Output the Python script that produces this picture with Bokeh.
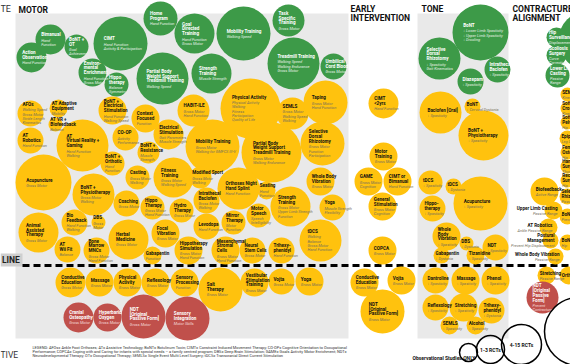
from bokeh.plotting import figure
from bokeh.models import Range1d
from bokeh.core.properties import value
from bokeh.embed import file_html
from bokeh.resources import INLINE

FONT = "Roboto"
GREEN = "#3d9a48"
YELLOW = "#ffc20e"
RED = "#c0504b"

# ---- data: (intervention, outcome, x, y, radius) ----
MOTOR_GREEN = [
    ("Action\nObservation", "Hand Function", 31, 57, 15),
    ("Bimanual", "Hand\nFunction", 50, 39, 15),
    ("BoNT +\nOT", "Goal\nAchievement", 76, 46, 12),
    ("CIMT", "Hand Function\nActivity & Participation", 120, 43, 27),
    ("Environ-\nmental\nEnrichment", "Hand Function\nGross Motor", 92, 72, 14),
    ("Hippo\ntherapy", "Balance\nSymmetry", 116, 84, 12),
    ("Home\nProgram", "Hand Function", 160, 18, 17),
    ("Goal\nDirected\nTraining", "Hand Function\nGross Motor", 194, 33, 20),
    ("Mobility Training", "Walking Speed", 243, 33, 27),
    ("Task\nSpecific\nTraining", "Gross Motor", 288, 20, 16),
    ("Partial Body\nWeight Support\nTreadmill Training", "Walking Speed", 162, 78, 26),
    ("Strength\nTraining", "Muscle Strength", 211, 73, 20),
    ("Treadmill Training", "Walking Speed\nWalking Endurance\nGross Motor", 293, 63, 26),
    ("Umbilical\nCord Blood", "Gross Motor", 333, 66, 13),
]
MOTOR_YELLOW = [
    ("AFOs", "Walking Speed\nGross Motor\nStride Length\nKinematics", 30, 113, 13),
    ("AT Adaptive\nEquipment", "Mobility", 58, 108, 9),
    ("AT VR +\nBiofeedback", "Balance", 55, 124, 7),
    ("BoNT +\nElectrical\nStimulation", "Hand Function\nWalking Speed", 112, 110, 14),
    ("Context\nFocused", "Function", 145, 118, 14),
    ("HABIT-ILE", "Gross Motor\nHand Function", 193, 110, 16),
    ("Physical Activity", "Physical Activity\nWalking\nFitness\nParticipation\nQuality of Life", 250, 108, 30),
    ("SEMLS", "Gross Motor\nWalking Speed\nWalking", 292, 113, 16),
    ("Taping", "Gross Motor\nHand Function", 325, 102, 22),
    ("AT\nRobotics", "Hand Function", 30, 140, 13),
    ("AT\nVirtual Reality +\nGaming", "Hand Function\nWalking", 82, 145, 26),
    ("CO-OP", "Activity\nPerformance", 125, 137, 13),
    ("BoNT +\nResistance", "Muscle\nStrength", 148, 152, 11),
    ("Electrical\nStimulation", "Gait Parameters\nMuscle Strength", 168, 134, 15),
    ("Mobility Training", "Gross Motor\nWalking for GMFCS III-V", 212, 146, 27),
    ("Partial Body\nWeight Support\nTreadmill Training", "Gross Motor\nWalking Endurance", 271, 152, 30),
    ("Selective\nDorsal\nRhizotomy", "Gross Motor\nFunction\nParticipation", 322, 143, 22),
    ("BoNT +\nOrthotic", "Hand\nFunction", 112, 163, 12),
    ("Acupuncture", "Gross Motor", 43, 182, 28),
    ("Casting", "Gross Motor\nWalking", 137, 177, 12),
    ("BoNT +\nPhysiotherapy", "Gross Motor\nWalking", 93, 194, 21),
    ("Fitness\nTraining", "Gross Motor\nWalking Speed", 173, 177, 20),
    ("Modified Sport", "Gross Motor\nWalking", 200, 177, 11),
    ("Orthoses Night\nHand Splint", "Hand Function", 238, 188, 21),
    ("Seating", "Hand\nFunction", 266, 190, 9),
    ("Whole Body\nVibration", "Gross Motor", 320, 181, 14),
    ("Coaching", "Gross Motor", 126, 203, 13),
    ("Hippo\nTherapy", "Gross Motor\nHand Function", 152, 207, 12),
    ("Intrathecal\nBaclofen", "Gross Motor\nWalking", 206, 200, 13),
    ("Strength\nTraining", "Gross Motor\nUpper Limb Strength\nFunction", 290, 206, 20),
    ("Yoga", "Muscle Strength\nFlexibility", 332, 207, 13),
    ("Hydro\nTherapy", "Gross Motor", 181, 210, 12),
    ("Motor\nSpeech", "Speech\nIntelligibility", 258, 215, 12),
    ("Mirror\nTherapy", "Motor\nFunction", 233, 222, 12),
    ("Levodopa", "Hand Function", 206, 226, 13),
    ("Animal\nAssisted\nTherapy", "Gross Motor", 38, 232, 20),
    ("Bio\nFeedback", "Hand Function\nWalking", 74, 222, 13),
    ("DBS", "Gross\nMotor", 98, 222, 7),
    ("Focal\nVibration", "Gross Motor", 165, 233, 14),
    ("Herbal\nMedicine", "Gross Motor", 128, 239, 20),
    ("tDCS", "Walking\nBalance\nGross Motor\nHand Function", 320, 240, 21),
    ("AT\nWii Fit", "Balance", 67, 249, 13),
    ("Bone\nMarrow\nMNCs", "Gross Motor\nHand Function", 96, 250, 13),
    ("Gabapentin", "Function", 152, 255, 9),
    ("Hippotherapy\nSimulation", "Gross Motor\nHand Function", 188, 250, 14),
    ("Mesenchymal\nStromal\nCells", "Gross Motor\nHand Function", 225, 250, 14),
    ("Neural\nStem Cells", "Gross Motor", 252, 250, 13),
    ("Trihexy-\nphenidyl", "Hand Function", 281, 250, 13),
    # below the line
    ("Conductive\nEducation", "Gross Motor", 70, 282, 15),
    ("Massage", "Gross Motor", 99, 282, 14),
    ("Physical\nActivity", "Gross Motor", 127, 282, 14),
    ("Reflexology", "Gross Motor", 155, 282, 14),
    ("Sensory\nProcessing", "Function", 184, 282, 14),
    ("Salt\nTherapy", "Gross Motor", 220, 289, 22),
    ("Vestibular\nStimulation\nTraining", "Gross Motor", 254, 282, 14),
    ("Vojta", "Gross Motor", 281, 281, 13),
    ("Yoga", "Gross Motor", 309, 281, 14),
]
MOTOR_RED = [
    ("Cranial\nOsteopathy", "Gross Motor", 78, 317, 15),
    ("Hyperbaric\nOxygen", "Gross Motor", 107, 317, 14),
    ("NDT\n[Original\nPassive Form]", "Gross Motor", 143, 316, 22),
    ("Sensory\nIntegration", "Motor Skills", 187, 318, 22),
]
EARLY_YELLOW = [
    ("CIMT\n<2yrs", "Hand Function", 383, 103, 15),
    ("Motor\nTraining", "Gross Motor", 383, 156, 14),
    ("GAME", "Gross Motor\nCognition", 368, 181, 14),
    ("CIMT or\nBimanual", "Hand Function", 397, 181, 14),
    ("General\nStimulation", "Gross Motor\nCognition", 382, 206, 14),
    ("COPCA", "Gross Motor", 382, 250, 14),
    ("Conductive\nEducation", "Gross Motor", 364, 282, 14),
    ("Vojta", "Gross Motor", 401, 280, 14),
    ("NDT\n[Original\nPassive Form]", "Gross Motor", 382, 311, 22),
]
TONE_GREEN = [
    ("BoNT", "\u2193 Lower Limb Spasticity\n\u2193 Upper Limb Spasticity\n\u2193 Drooling", 480, 32, 28),
    ("Selective\nDorsal\nRhizotomy", "\u2193 Spasticity\nGait Kinematics", 439, 58, 21),
    ("Intrathecal\nBaclofen", "\u2193 Spasticity", 497, 69, 13),
    ("Diazepam", "\u2193 Spasticity", 470, 81, 13),
]
TONE_YELLOW = [
    ("Baclofen [Oral]", "\u2193 Spasticity", 440, 112, 21),
    ("BoNT", "\u2193 Cervical Dystonia", 472, 106, 8),
    ("BoNT +\nPhysiotherapy", "\u2193 Spasticity", 483, 135, 25),
    ("tDCS", "\u2193 Spasticity", 430, 182, 12),
    ("tDCS", "\u2193 Dystonia", 453, 186, 8),
    ("Hippo-\ntherapy", "\u2193 Spasticity", 432, 208, 13),
    ("Acupuncture", "\u2193 Spasticity", 480, 203, 27),
    ("Whole\nBody\nVibration", "\u2193 Spasticity", 446, 236, 14),
    ("DBS", "\u2193 Dystonia", 466, 243, 7),
    ("NDT", "\u2193 Spasticity", 495, 247, 13),
    ("Gabapentin", "\u2193 Dystonia", 441, 255, 8),
    ("Tizanidine", "\u2193 Spasticity", 475, 255, 9),
    ("Dantroline", "\u2193 Spasticity", 435, 280, 13),
    ("Massage", "\u2193 Spasticity", 465, 280, 14),
    ("Phenol", "\u2193 Spasticity", 495, 280, 14),
    ("Reflexology", "\u2193 Spasticity", 435, 307, 13),
    ("Stretching", "\u2193 Spasticity", 463, 307, 14),
    ("Trihexy-\nphenidyl", "\u2193 Dystonia", 491, 310, 13),
    ("SEMLS", "\u2193 Spasticity", 449, 325, 9),
    ("Alcohol", "\u2193 Spasticity", 475, 325, 9),
]
CONTRACTURE_GREEN = [
    ("", "", 588, 40, 30),
    ("Hip\nSurveillance", "Displacement", 556, 37, 10),
    ("Scoliosis\nSurgery", "Curve\nCorrection", 556, 55, 10),
    ("Lower Limb\nCasting", "Passive\nRange", 557, 75, 12),
]
CONTRACTURE_YELLOW = [
    ("SEMLS", "Kinematics", 567, 94, 7),
    ("Soft Tissue\nCrouch", "Kinematics", 567, 108, 7),
    ("Soft Tissue\nPelvic", "Hip", 567, 122, 7),
    ("Epiphysiodesis", "Leg Length", 567, 138, 8),
    ("Femoral\nOsteotomy", "Hip", 567, 152, 7),
    ("Hand\nSurgery", "Thumb", 567, 166, 7),
    ("Reconstructive\nSurgery", "Hip", 567, 180, 7),
    ("Selective\nRhizotomy", "Passive Range", 567, 196, 8),
    ("Biofeedback", "Active Range", 544, 191, 14),
    ("BoNT", "Prevent", 567, 216, 8),
    ("BoNT", "Hip", 567, 242, 8),
    ("Stretching", "Passive Range", 546, 275, 9),
    ("Orthoses", "", 568, 275, 9),
]
CONTRACTURE_SIDE = [
    ("Upper Limb Casting", "Passive Range", 553, 210, 9),
    ("AT Robotics", "Ankle Passive Range", 548, 227, 9),
    ("Postural\nManagement", "Prevent Hip Displacement", 550, 240, 8),
    ("Whole Body Vibration", "Passive Range", 555, 256, 8),
]
CONTRACTURE_RED = [
    ("NDT\n[Original\nPassive\nForm]", "Prevent\nContracture", 542, 297, 16),
]
SIZE_KEY = [
    ("", 468, 352, 9),
    ("1-3 RCTs", 490, 349, 14),
    ("4-15 RCTs", 521, 344, 20),
    ("15+", 578, 331, 34),
]
SECTIONS = [("MOTOR", 18, 4), ("EARLY\nINTERVENTION", 350, 3), ("TONE", 421, 3),
            ("CONTRACTURE\nALIGNMENT", 512, 3)]
LEGEND_LINES = [
    "LEGEND: AFOs= Ankle Foot Orthoses; AT= Assistive Technology; BoNT= Botulinum Toxin; CIMT= Constraint Induced Movement Therapy; CO-OP= Cognitive Orientation to Occupational",
    "Performance; COPCA= Coping with and Caring for infants with special needs \u2013 a family centred program; DBS= Deep Brain Stimulation; GAME= Goals Activity Motor Enrichment; NDT=",
    "Neurodevelopmental Therapy; OT= Occupational Therapy; SEMLS= Single Event Multi Level Surgery; tDCS= Transcranial Direct Current Stimulation",
]

W, H = 570, 364
p = figure(width=W, height=H, x_range=Range1d(0, W), y_range=Range1d(H, 0),
           output_backend="svg", toolbar_location=None, min_border=0,
           x_axis_location=None, y_axis_location=None)
p.grid.visible = False
p.outline_line_color = None
p.background_fill_color = "white"
p.border_fill_color = "white"

# panels
p.quad(left=[15, 417], right=[348, 508], top=[13, 13], bottom=[338, 338],
       fill_color="#e9e9e9", line_color=None)

# side labels and evidence line
p.text(x=[0], y=[8], text=["TE"], text_font=value(FONT), text_font_size="9px",
       text_align="left", text_baseline="middle", text_color="#333333")
p.quad(left=[0], right=[22], top=[253], bottom=[266], fill_color="#cfcfcf", line_color=None)
p.text(x=[1.5], y=[259.5], text=["LINE"], text_font=value(FONT), text_font_size="8.5px",
       text_font_style="bold", text_align="left", text_baseline="middle", text_color="#222222")
p.line(x=[22, 575], y=[265, 265], line_color="black", line_width=3, line_dash="7 4")
p.text(x=[0], y=[354], text=["TIVE"], text_font=value(FONT), text_font_size="8.5px",
       text_align="left", text_baseline="middle", text_color="#333333")

TITLE_H = 4.9
SUB_H = 4.3


def bubbles(rows, fill, tcol, scol, side=False):
    p.circle(x=[r[2] for r in rows], y=[r[3] for r in rows], radius=[r[4] for r in rows],
             fill_color=fill, line_color=None)
    tx, ty, tt, sx, sy, st = [], [], [], [], [], []
    for name, sub, cx, cy, r in rows:
        tl = name.split("\n") if name else []
        sl = sub.split("\n") if sub else []
        total = len(tl) * TITLE_H + (0.6 if sl else 0) + len(sl) * SUB_H
        top = cy - total / 2
        if side:
            x0 = cx + 4
        else:
            x0 = cx - (0.62 * r if r > 11 else 0.75 * r)
        for i, t in enumerate(tl):
            tx.append(x0); ty.append(top + TITLE_H * (i + 0.5)); tt.append(t)
        base = top + len(tl) * TITLE_H + 0.6
        for j, s in enumerate(sl):
            sx.append(x0); sy.append(base + SUB_H * (j + 0.5)); st.append(s)
    align = "right" if side else "left"
    p.text(x=tx, y=ty, text=tt, text_font=value(FONT), text_font_size="4.6px",
           text_font_style="bold", text_color=tcol, text_align=align, text_baseline="middle")
    p.text(x=sx, y=sy, text=st, text_font=value(FONT), text_font_size="3.9px",
           text_font_style="italic", text_color=scol, text_align=align, text_baseline="middle")


bubbles(MOTOR_GREEN, GREEN, "white", "#e4f1e4")
bubbles(MOTOR_YELLOW, YELLOW, "#111111", "#76705c")
bubbles(MOTOR_RED, RED, "white", "#f5dcda")
bubbles(EARLY_YELLOW, YELLOW, "#111111", "#76705c")
bubbles(TONE_GREEN, GREEN, "white", "#e4f1e4")
bubbles(TONE_YELLOW, YELLOW, "#111111", "#76705c")
bubbles(CONTRACTURE_GREEN, GREEN, "white", "#e4f1e4")
bubbles(CONTRACTURE_YELLOW, YELLOW, "#111111", "#76705c")
bubbles(CONTRACTURE_SIDE, YELLOW, "#111111", "#76705c", side=True)
bubbles(CONTRACTURE_RED, RED, "white", "#f5dcda")

# section titles
p.text(x=[s[1] for s in SECTIONS], y=[s[2] for s in SECTIONS], text=[s[0] for s in SECTIONS],
       text_font=value(FONT), text_font_size="8.5px", text_font_style="bold",
       text_color="#111111", text_align="left", text_baseline="top", text_line_height=0.95)

# legend text
p.text(x=[32] * 3, y=[347, 351, 355], text=LEGEND_LINES, text_font=value(FONT),
       text_font_size="3.9px", text_color="#333333", text_align="left", text_baseline="middle")

# size key (circles first, labels on top)
p.circle(x=[s[1] for s in SIZE_KEY], y=[s[2] for s in SIZE_KEY], radius=[s[3] for s in SIZE_KEY],
         fill_color=None, line_color="black", line_width=1.5)
p.text(x=[s[1] for s in SIZE_KEY[1:]], y=[s[2] for s in SIZE_KEY[1:]],
       text=[s[0] for s in SIZE_KEY[1:]], text_font=value(FONT), text_font_size="5px",
       text_font_style="bold", text_color="#111111", text_align="center", text_baseline="middle")
p.text(x=[412], y=[357], text=["Observational Studies ONLY"], text_font=value(FONT),
       text_font_size="5px", text_font_style="bold", text_color="#111111",
       text_align="left", text_baseline="middle")

open("out.html", "w").write(file_html(p, INLINE))
